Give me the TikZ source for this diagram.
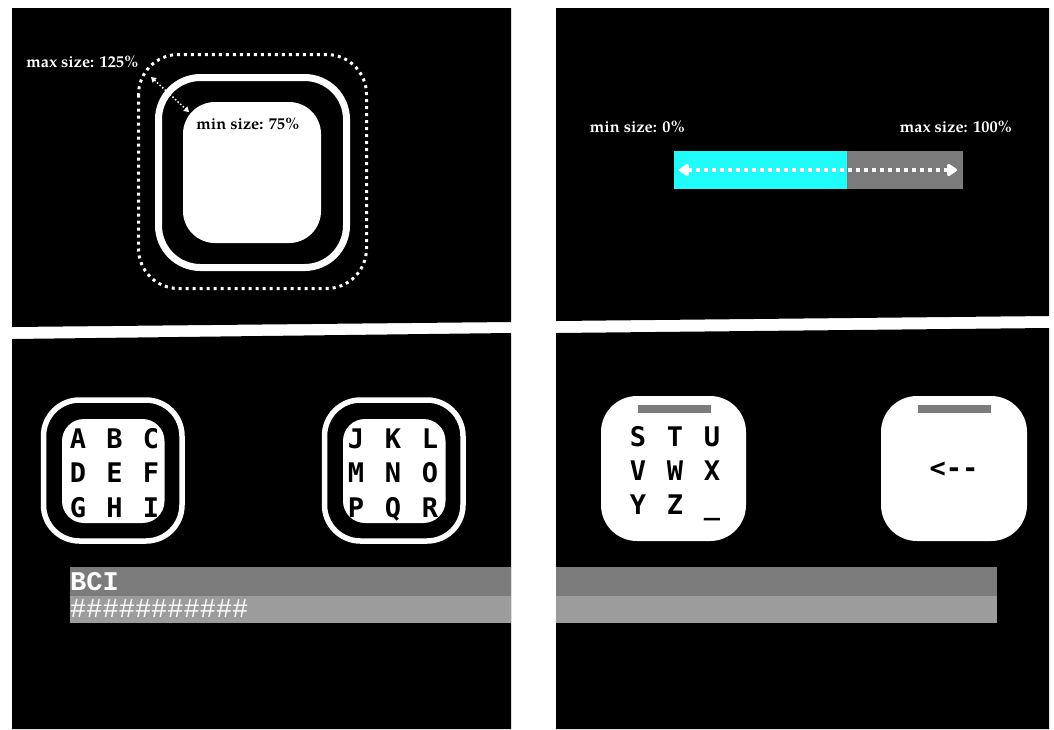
\documentclass[tikz,border=0pt]{standalone}
\usepackage{fontspec}
\newfontfamily\palfont{TeX Gyre Pagella}
\newfontfamily\djmono{DejaVu Sans Mono}
\newfontfamily\libmono{Liberation Mono}
\usetikzlibrary{arrows.meta}
\definecolor{cyanbar}{HTML}{20FCFC}
\definecolor{darkbar}{HTML}{7B7B7B}
\definecolor{lightbar}{HTML}{9C9C9C}
\begin{document}
\begin{tikzpicture}[x=1pt,y=-1pt,
  panel/.style={fill=black,draw=none},
  lbl/.style={font=\palfont\bfseries\fontsize{16.3}{16.3}\selectfont, inner sep=0pt},
  keych/.style={font=\djmono\bfseries\fontsize{27}{27}\selectfont, text=black, inner sep=0pt, anchor=base},
  ring/.style={draw=white, line width=5.5pt, rounded corners=36pt},
  keyface/.style={fill=white, rounded corners=22pt},
  bigkey/.style={fill=white, rounded corners=36pt},
  bartxt/.style={font=\libmono\fontsize{27}{27}\selectfont, text=white, inner sep=0pt, anchor=base west}
]
\fill[white] (0,0) rectangle (1054,729);
\useasboundingbox (0,0) rectangle (1054,729);

% panels
\fill[panel] (12,8) -- (511,8) -- (511,322) -- (12,327) -- cycle;
\fill[panel] (556,8) -- (1049,8) -- (1049,316) -- (556,321) -- cycle;
\fill[panel] (12,339) -- (511,333) -- (511,729) -- (12,729) -- cycle;
\fill[panel] (556,333) -- (1049,328) -- (1049,729) -- (556,729) -- cycle;

% ---- top left
\draw[white, line width=3pt, dash pattern=on 3pt off 4pt, rounded corners=40pt] (138.5,54.5) rectangle (366.5,288.5);
\draw[white, line width=7pt, rounded corners=42pt] (158.5,77.5) rectangle (346.5,267.5);
\fill[white, rounded corners=32pt] (183,102) rectangle (321,243);
\node[lbl, text=black] (minl) at (248,124) {min size: 75\%};
\node[lbl, text=white] (maxl) at (82.5,62) {max size: 125\%};
\coordinate (a1) at (151,77);
\coordinate (a2) at (189,112);
\draw[white, line width=1.5pt, dash pattern=on 1.5pt off 2pt,
  {Triangle[length=5pt,width=6pt]}-{Triangle[length=5pt,width=6pt]}] (a1) -- (a2);

% ---- top right
\fill[cyanbar] (674,151) rectangle (847,189);
\fill[darkbar] (847,151) rectangle (963,189);
\node[lbl, text=white] (min0) at (637.5,127) {min size: 0\%};
\node[lbl, text=white] (max100) at (956,127) {max size: 100\%};
\coordinate (s1) at (679,170);
\coordinate (s2) at (957,170);
\draw[white, line width=4pt, dash pattern=on 4pt off 4pt,
  {Triangle[length=11pt,width=14pt,round]}-{Triangle[length=11pt,width=14pt,round]}] (s1) -- (s2);

% ---- bottom left tiles
\draw[ring] (43.5,400) rectangle (182,541);
\fill[keyface] (62,419) rectangle (164.5,523);
\draw[ring] (324.5,400) rectangle (463,541);
\fill[keyface] (343,419) rectangle (445.5,523);
\foreach \ch [count=\i from 0] in {A,B,C,D,E,F,G,H,I}{
  \pgfmathtruncatemacro{\cc}{mod(\i,3)}
  \pgfmathtruncatemacro{\rr}{int(\i/3)}
  \node[keych] (k\ch) at ({78+36.5*\cc},{448+34.5*\rr}) {\ch};
}
\foreach \ch [count=\i from 0] in {J,K,L,M,N,O,P,Q,R}{
  \pgfmathtruncatemacro{\cc}{mod(\i,3)}
  \pgfmathtruncatemacro{\rr}{int(\i/3)}
  \node[keych] (k\ch) at ({356+37*\cc},{448+34.5*\rr}) {\ch};
}

% ---- bottom right tiles
\fill[bigkey] (601,396) rectangle (746,541);
\fill[darkbar] (638,405) rectangle (711,413);
\fill[bigkey] (881,396) rectangle (1027,541);
\fill[darkbar] (918,405) rectangle (991,413);
\foreach \ch [count=\i from 0] in {S,T,U,V,W,X,Y,Z}{
  \pgfmathtruncatemacro{\cc}{mod(\i,3)}
  \pgfmathtruncatemacro{\rr}{int(\i/3)}
  \node[keych] (k\ch) at ({638+37*\cc},{446.5+34*\rr}) {\ch};
}
\node[keych] (kspace) at (712,514.5) {\_};
\node[keych, anchor=center] (kback) at (954,470) {<-\kern0pt-};

% ---- text bars
\fill[darkbar] (70,567) rectangle (511,596);
\fill[lightbar] (70,596) rectangle (511,623);
\fill[darkbar] (556,567) rectangle (997,596);
\fill[lightbar] (556,596) rectangle (997,623);
\node[bartxt, font=\libmono\bfseries\fontsize{27}{27}\selectfont] (bci) at (70,590) {BCI};
\node[bartxt] (hash) at (70,617) {\#\#\#\#\#\#\#\#\#\#\#};
\end{tikzpicture}
\end{document}
